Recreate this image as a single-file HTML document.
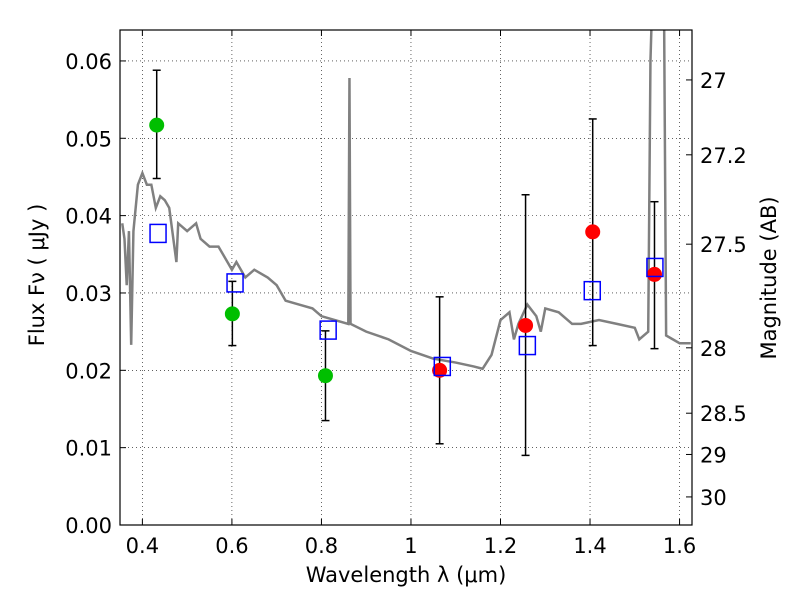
<!DOCTYPE html>
<html><head><meta charset="utf-8"><style>
body{margin:0;background:#fff}
text{font-family:"DejaVu Sans","Liberation Sans",sans-serif;fill:#000}
</style></head><body>
<svg id="chart" width="800" height="600" xmlns="http://www.w3.org/2000/svg"></svg>
<script>
const specX=[0.355,0.36,0.365,0.37,0.375,0.38,0.39,0.40,0.41,0.42,0.43,0.44,0.45,0.46,0.476,0.48,0.5,0.52,0.53,0.55,0.57,0.59,0.6,0.61,0.63,0.65,0.68,0.7,0.72,0.75,0.78,0.8,0.83,0.86,0.8626,0.865,0.9,0.95,1.0,1.05,1.1,1.14,1.16,1.18,1.2,1.22,1.23,1.24,1.26,1.28,1.29,1.3,1.33,1.36,1.38,1.42,1.46,1.5,1.51,1.53,1.535,1.54,1.565,1.57,1.6,1.625];
const specY=[0.039,0.037,0.031,0.038,0.0233,0.038,0.044,0.0455,0.044,0.044,0.041,0.0425,0.042,0.041,0.034,0.039,0.038,0.039,0.037,0.036,0.036,0.034,0.033,0.034,0.032,0.033,0.032,0.031,0.029,0.0285,0.028,0.027,0.0265,0.026,0.0578,0.026,0.025,0.024,0.0225,0.0215,0.021,0.0205,0.0202,0.022,0.0265,0.0275,0.024,0.026,0.0285,0.027,0.025,0.028,0.0275,0.026,0.026,0.0265,0.026,0.0255,0.024,0.025,0.06,0.07,0.07,0.0245,0.0235,0.0235];
const greenX=[0.432,0.601,0.809], greenY=[0.0517,0.0273,0.0193], greenLo=[0.0448,0.0232,0.0135], greenHi=[0.0588,0.0315,0.0251];
const redX=[1.064,1.256,1.406,1.544], redY=[0.0200,0.0258,0.0379,0.0324], redLo=[0.0105,0.0090,0.0232,0.0228], redHi=[0.0295,0.0427,0.0525,0.0418];
const sqX=[0.435,0.607,0.815,1.07,1.26,1.405,1.545], sqY=[0.0377,0.0313,0.0252,0.0205,0.0232,0.0303,0.0333];
const xTicks=[0.4,0.6,0.8,1.0,1.2,1.4,1.6], xLabels=["0.4","0.6","0.8","1","1.2","1.4","1.6"];
const yTicks=[0,0.01,0.02,0.03,0.04,0.05,0.06], yLabels=["0.00","0.01","0.02","0.03","0.04","0.05","0.06"];
const magTicks=[27,27.2,27.5,28,28.5,29,30], magLabels=["27","27.2","27.5","28","28.5","29","30"];
const L=120,R=692,T=30,B=525,xmin=0.35,xmax=1.6278,ymin=0,ymax=0.064;
const sx=v=>L+(v-xmin)/(xmax-xmin)*(R-L), sy=v=>B-(v-ymin)/(ymax-ymin)*(B-T);
const NS="http://www.w3.org/2000/svg", svg=document.getElementById('chart');
function mk(t,a,p){const e=document.createElementNS(NS,t);for(const k in a)e.setAttribute(k,a[k]);(p||svg).appendChild(e);return e;}
const defs=mk('defs',{});const cp=mk('clipPath',{id:'c'},defs);mk('rect',{x:L,y:T,width:R-L,height:B-T},cp);
xTicks.forEach((v,i)=>{const x=sx(v);
 const g=mk('line',{x1:x,x2:x,y1:T,y2:B,stroke:'#000','stroke-width':0.6,'stroke-dasharray':'1,3'});
 
 mk('line',{x1:x,x2:x,y1:B,y2:B-6,stroke:'#000'});mk('line',{x1:x,x2:x,y1:T,y2:T+6,stroke:'#000'});
 const t=mk('text',{x:x,y:B+28,'font-size':21,'text-anchor':'middle'});t.textContent=xLabels[i];
 });
yTicks.forEach((v,i)=>{const y=sy(v);
 if(v>0){const g=mk('line',{x1:L,x2:R,y1:y,y2:y,stroke:'#000','stroke-width':0.6,'stroke-dasharray':'1,3'});
 }
 mk('line',{x1:L,x2:L+6,y1:y,y2:y,stroke:'#000'});
 const t=mk('text',{x:L-8,y:y+8,'font-size':21,'text-anchor':'end'});t.textContent=yLabels[i];
 });
magTicks.forEach((m,i)=>{const y=sy(Math.pow(10,(23.9-m)/2.5));
 mk('line',{x1:R,x2:R-6,y1:y,y2:y,stroke:'#000'});
 const t=mk('text',{x:R+8,y:y+8,'font-size':21});t.textContent=magLabels[i];
 });
const sp=mk('polyline',{points:specX.map((x,i)=>sx(x)+','+sy(specY[i])).join(' '),fill:'none',stroke:'#808080','stroke-width':2.5,'clip-path':'url(#c)'});

function pts(X,Y,Lo,Hi,col,name){X.forEach((x,i)=>{const px=sx(x);
 const e=mk('line',{x1:px,x2:px,y1:sy(Lo[i]),y2:sy(Hi[i]),stroke:'#000','stroke-width':1.5});
 
 [Lo[i],Hi[i]].forEach(v=>mk('line',{x1:px-4,x2:px+4,y1:sy(v),y2:sy(v),stroke:'#000','stroke-width':1.5}));
 const c=mk('circle',{cx:px,cy:sy(Y[i]),r:7.5,fill:col});
 });}
pts(greenX,greenY,greenLo,greenHi,'#00bf00','green-photometry');
pts(redX,redY,redLo,redHi,'#ff0000','red-photometry');
sqX.forEach((x,i)=>{const s=mk('rect',{x:sx(x)-8,y:sy(sqY[i])-9,width:16,height:18,fill:'none',stroke:'#0000ff','stroke-width':1.5});
 });
const f=mk('rect',{x:L,y:T,width:R-L,height:B-T,fill:'none',stroke:'#000','stroke-width':1.2});

let t=mk('text',{x:406,y:582,'font-size':21,'text-anchor':'middle'});t.textContent='Wavelength  λ (μm)';

t=mk('text',{x:0,y:0,'font-size':21,'text-anchor':'middle',transform:'translate(44,275) rotate(-90)'});t.textContent='Flux  Fν  ( μJy )';

t=mk('text',{x:0,y:0,'font-size':21,'text-anchor':'middle',transform:'translate(776,278) rotate(-90)'});t.textContent='Magnitude (AB)';

</script>
</body></html>
